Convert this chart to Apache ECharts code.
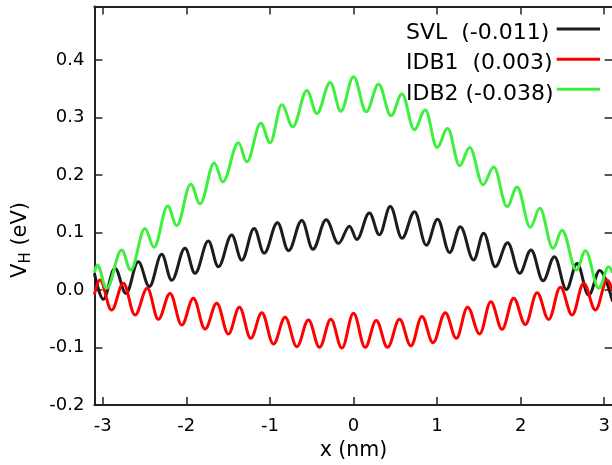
<!DOCTYPE html>
<html><head><meta charset="utf-8">
<script src="https://cdn.jsdelivr.net/npm/echarts@6/dist/echarts.min.js"></script>
<style>html,body{margin:0;padding:0;background:#fff}#c{width:612px;height:465px}</style>
</head><body><div id="c"></div>
<script>
// ---- data (extrema of each curve) ----
const seriesNames = ['SVL  (-0.011)', 'IDB1  (0.003)', 'IDB2 (-0.038)'];
const svlX = [-3.1,-2.994,-2.854,-2.722,-2.575,-2.443,-2.295,-2.175,-2.016,-1.896,-1.737,-1.617,-1.457,-1.337,-1.189,-1.069,-0.91,-0.778,-0.618,-0.486,-0.327,-0.18,-0.048,0.04,0.19,0.31,0.44,0.58,0.73,0.871,1.006,1.15,1.278,1.437,1.557,1.697,1.844,1.988,2.124,2.268,2.404,2.547,2.675,2.814,2.946,3.1];
const svlY = [0.029,-0.016,0.038,-0.006,0.049,0.006,0.062,0.017,0.0725,0.029,0.085,0.0406,0.0957,0.052,0.107,0.064,0.117,0.0684,0.121,0.071,0.122,0.081,0.111,0.088,0.134,0.096,0.145,0.09,0.136,0.078,0.123,0.065,0.110,0.052,0.0986,0.0406,0.082,0.029,0.0696,0.016,0.058,0.001,0.046,-0.009,0.034,-0.02];
const idb1X = [-3.1,-3.034,-2.894,-2.754,-2.614,-2.467,-2.335,-2.195,-2.055,-1.916,-1.776,-1.636,-1.497,-1.365,-1.229,-1.097,-0.958,-0.818,-0.678,-0.539,-0.407,-0.271,-0.139,0,0.14,0.272,0.407,0.551,0.687,0.819,0.951,1.098,1.23,1.365,1.509,1.643,1.777,1.916,2.056,2.196,2.335,2.475,2.616,2.754,2.895,3.035,3.1];
const idb1Y = [-0.008,0.0174,-0.035,0.0116,-0.0435,0.003,-0.051,-0.006,-0.061,-0.0145,-0.068,-0.023,-0.0765,-0.030,-0.084,-0.0394,-0.094,-0.0475,-0.0986,-0.052,-0.0997,-0.051,-0.101,-0.0406,-0.0997,-0.053,-0.0997,-0.051,-0.097,-0.046,-0.0917,-0.0394,-0.084,-0.030,-0.0765,-0.0203,-0.0684,-0.0145,-0.06,-0.0047,-0.0512,0.0047,-0.0435,0.0116,-0.0348,0.0174,-0.002];
const idb2X = [-3.1,-3.066,-2.953,-2.774,-2.666,-2.495,-2.387,-2.223,-2.115,-1.947,-1.836,-1.665,-1.564,-1.377,-1.277,-1.109,-0.998,-0.858,-0.726,-0.558,-0.438,-0.279,-0.151,0,0.152,0.30,0.448,0.58,0.727,0.859,0.999,1.126,1.27,1.39,1.55,1.677,1.837,1.957,2.116,2.228,2.388,2.495,2.667,2.775,2.934,3.054,3.1];
const idb2Y = [0.03,0.0435,0.003,0.0696,0.0348,0.107,0.0742,0.146,0.112,0.184,0.150,0.221,0.188,0.256,0.223,0.290,0.256,0.322,0.284,0.347,0.307,0.361,0.311,0.371,0.310,0.358,0.303,0.341,0.279,0.313,0.248,0.281,0.216,0.248,0.183,0.214,0.145,0.179,0.109,0.142,0.0725,0.104,0.0348,0.0684,0.003,0.0406,0.03];
const xMin = -3.1, xMax = 3.1, yMin = -0.2, yMax = 0.493;
const xTitle = 'x (nm)';

// ---- chart ----
const FONT = '"DejaVu Sans", sans-serif';
const AX = '#222';
const colors = ['#1c1c1c', '#ff0000', '#3ef03e'];
const zip = (xs, ys) => xs.map((x, i) => [x, ys[i]]);
const seriesData = [zip(svlX, svlY), zip(idb1X, idb1Y), zip(idb2X, idb2Y)];

const xFmt = v => Math.abs(v - Math.round(v)) < 1e-6 ? String(Math.round(v)) : '';
const yFmt = v => {
  if (Math.abs(v * 10 - Math.round(v * 10)) > 1e-6) return '';
  if (Math.abs(v) < 1e-9) return '0.0';
  return v.toFixed(1);
};
const tick = {show: true, inside: true, length: 8, lineStyle: {color: AX, width: 1.5}};
const line = {show: true, onZero: false, lineStyle: {color: AX, width: 2}};

// key (legend) rows, drawn like the original plot's key: left-justified text, line sample on the right
const keyRows = [29, 59.2, 89.3];
const keyGraphics = [];
seriesNames.forEach((n, i) => {
  keyGraphics.push({type: 'text', x: 406, y: keyRows[i] + 4.5, z: 100,
    style: {text: n, font: '22px ' + FONT, fill: '#000', align: 'left', verticalAlign: 'middle'}});
  keyGraphics.push({type: 'line', z: 100, shape: {x1: 556.7, y1: keyRows[i], x2: 600, y2: keyRows[i]},
    style: {stroke: colors[i], lineWidth: 3}});
});

const chart = echarts.init(document.getElementById('c'), null, {renderer: 'canvas'});
chart.setOption({
  animation: false,
  backgroundColor: '#fff',
  grid: {left: 94.4, top: 6.5, width: 518.2, height: 398.5, containLabel: false, outerBoundsMode: 'none'},
  xAxis: [
    {type: 'value', position: 'bottom', min: xMin, max: xMax, splitNumber: 6,
     axisLine: line, axisTick: tick, splitLine: {show: false},
     axisLabel: {formatter: xFmt, fontSize: 18, fontFamily: FONT, color: '#000', margin: 12, showMinLabel: true, showMaxLabel: true},
     name: xTitle, nameLocation: 'middle', nameGap: 29,
     nameTextStyle: {fontSize: 20.5, fontFamily: FONT, color: '#000'}},
    {type: 'value', position: 'top', min: xMin, max: xMax, splitNumber: 6,
     axisLine: line, axisTick: tick, splitLine: {show: false}, axisLabel: {show: false}}
  ],
  yAxis: [
    {type: 'value', position: 'left', min: yMin, max: yMax, interval: 0.1,
     axisLine: line, axisTick: tick, splitLine: {show: false},
     axisLabel: {formatter: yFmt, fontSize: 18, fontFamily: FONT, color: '#000', margin: 10}},
    {type: 'value', position: 'right', min: yMin, max: yMax, interval: 0.1,
     axisLine: line, axisTick: tick, splitLine: {show: false}, axisLabel: {show: false}}
  ],
  series: seriesNames.map((n, i) => ({
    name: n, type: 'line', data: seriesData[i], xAxisIndex: 0, yAxisIndex: 0,
    smooth: 0.37, smoothMonotone: 'x', showSymbol: false, symbol: 'none', clip: true,
    lineStyle: {color: colors[i], width: 3}, itemStyle: {color: colors[i]}, color: colors[i]
  })),
  graphic: [{
    type: 'group', x: 21, y: 278, rotation: Math.PI / 2,
    children: [
      {type: 'text', x: 0, y: 0, style: {text: 'V', font: '21px ' + FONT, fill: '#000', align: 'left', verticalAlign: 'middle'}},
      {type: 'text', x: 14.4, y: 5, style: {text: 'H', font: '15px ' + FONT, fill: '#000', align: 'left', verticalAlign: 'middle'}},
      {type: 'text', x: 25.7, y: 0, style: {text: ' (eV)', font: '21px ' + FONT, fill: '#000', align: 'left', verticalAlign: 'middle'}}
    ]
  }].concat(keyGraphics)
});
</script></body></html>
